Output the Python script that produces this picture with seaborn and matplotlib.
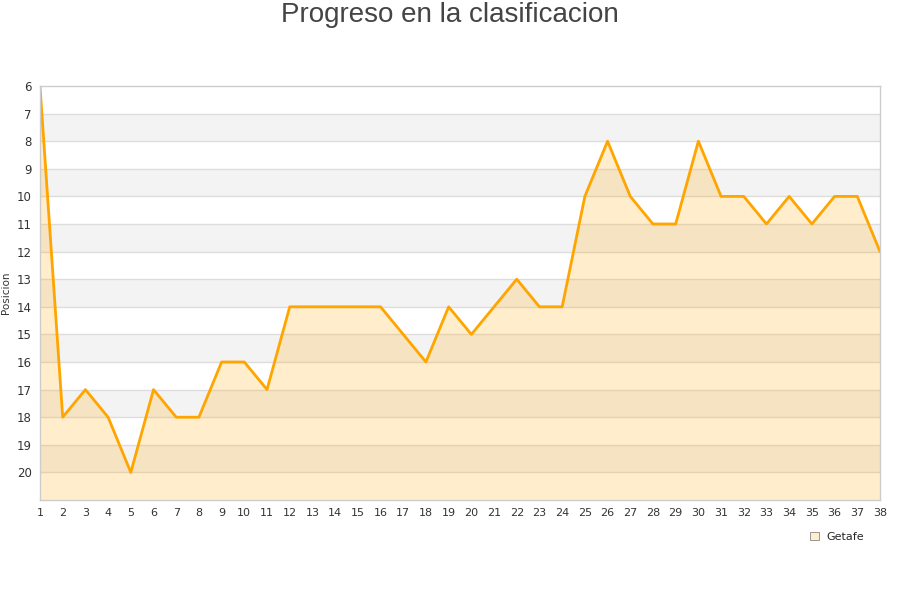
import matplotlib
matplotlib.use("Agg")
import matplotlib.pyplot as plt
import seaborn as sns
import pandas as pd
import numpy as np

jornadas = list(range(1, 39))
posiciones = [6, 18, 17, 18, 20, 17, 18, 18, 16, 16, 17, 14, 14, 14, 14, 14, 15, 16, 14, 15,
              14, 13, 14, 14, 10, 8, 10, 11, 11, 8, 10, 10, 11, 10, 11, 10, 10, 12]
equipo = "Getafe"
y_ticks = list(range(6, 21))

df = pd.DataFrame({"Jornada": jornadas, "Posicion": posiciones})

sns.set_theme(style="white")
plt.rcParams['font.family'] = ['DejaVu Sans']

fig = plt.figure(figsize=(9, 6), dpi=100)
ax = fig.add_axes([40/900, 100/600, 840/900, 414/600])

# alternating bands
for k in range(6, 21):
    if k % 2 == 1:
        ax.axhspan(k, k + 1, color="#f3f3f3", zorder=0, lw=0)
for k in range(7, 21):
    ax.axhline(k, color="#dddddd", lw=1, zorder=0.5)

ax.fill_between(df["Jornada"], df["Posicion"], 21, color="#FFA500", alpha=0.2, lw=0, zorder=1)
sns.lineplot(data=df, x="Jornada", y="Posicion", ax=ax, color="#FFA500", lw=2, zorder=2, legend=False)

ax.set_xlim(1, 38)
ax.set_ylim(21, 6)
ax.set_xticks(jornadas)
ax.set_xticklabels([str(j) for j in jornadas], fontsize=8, color="#333333")
ax.set_yticks(y_ticks)
ax.set_yticklabels([str(t) for t in y_ticks], fontsize=8.5, color="#333333")
ax.tick_params(axis="both", length=0, pad=6)
ax.set_xlabel("")
ax.set_ylabel("Posicion", fontsize=7.5, color="#333333", labelpad=4)
for s in ax.spines.values():
    s.set_color("#cccccc")
    s.set_linewidth(1)

fig.text(0.5, 1 - 15/600, "Progreso en la clasificacion", ha="center", va="center", fontsize=20,
         color="#444444", family=["Liberation Sans", "DejaVu Sans"])

from matplotlib.patches import Patch
h = [Patch(facecolor="#FFEDCC", edgecolor="#888888", lw=0.6, label=equipo)]
fig.legend(handles=h, loc="center", bbox_to_anchor=(0.93, 0.105), frameon=False, fontsize=8,
           handlelength=0.8, handleheight=0.8, handletextpad=0.7)

fig.savefig("out.png", dpi=100)
